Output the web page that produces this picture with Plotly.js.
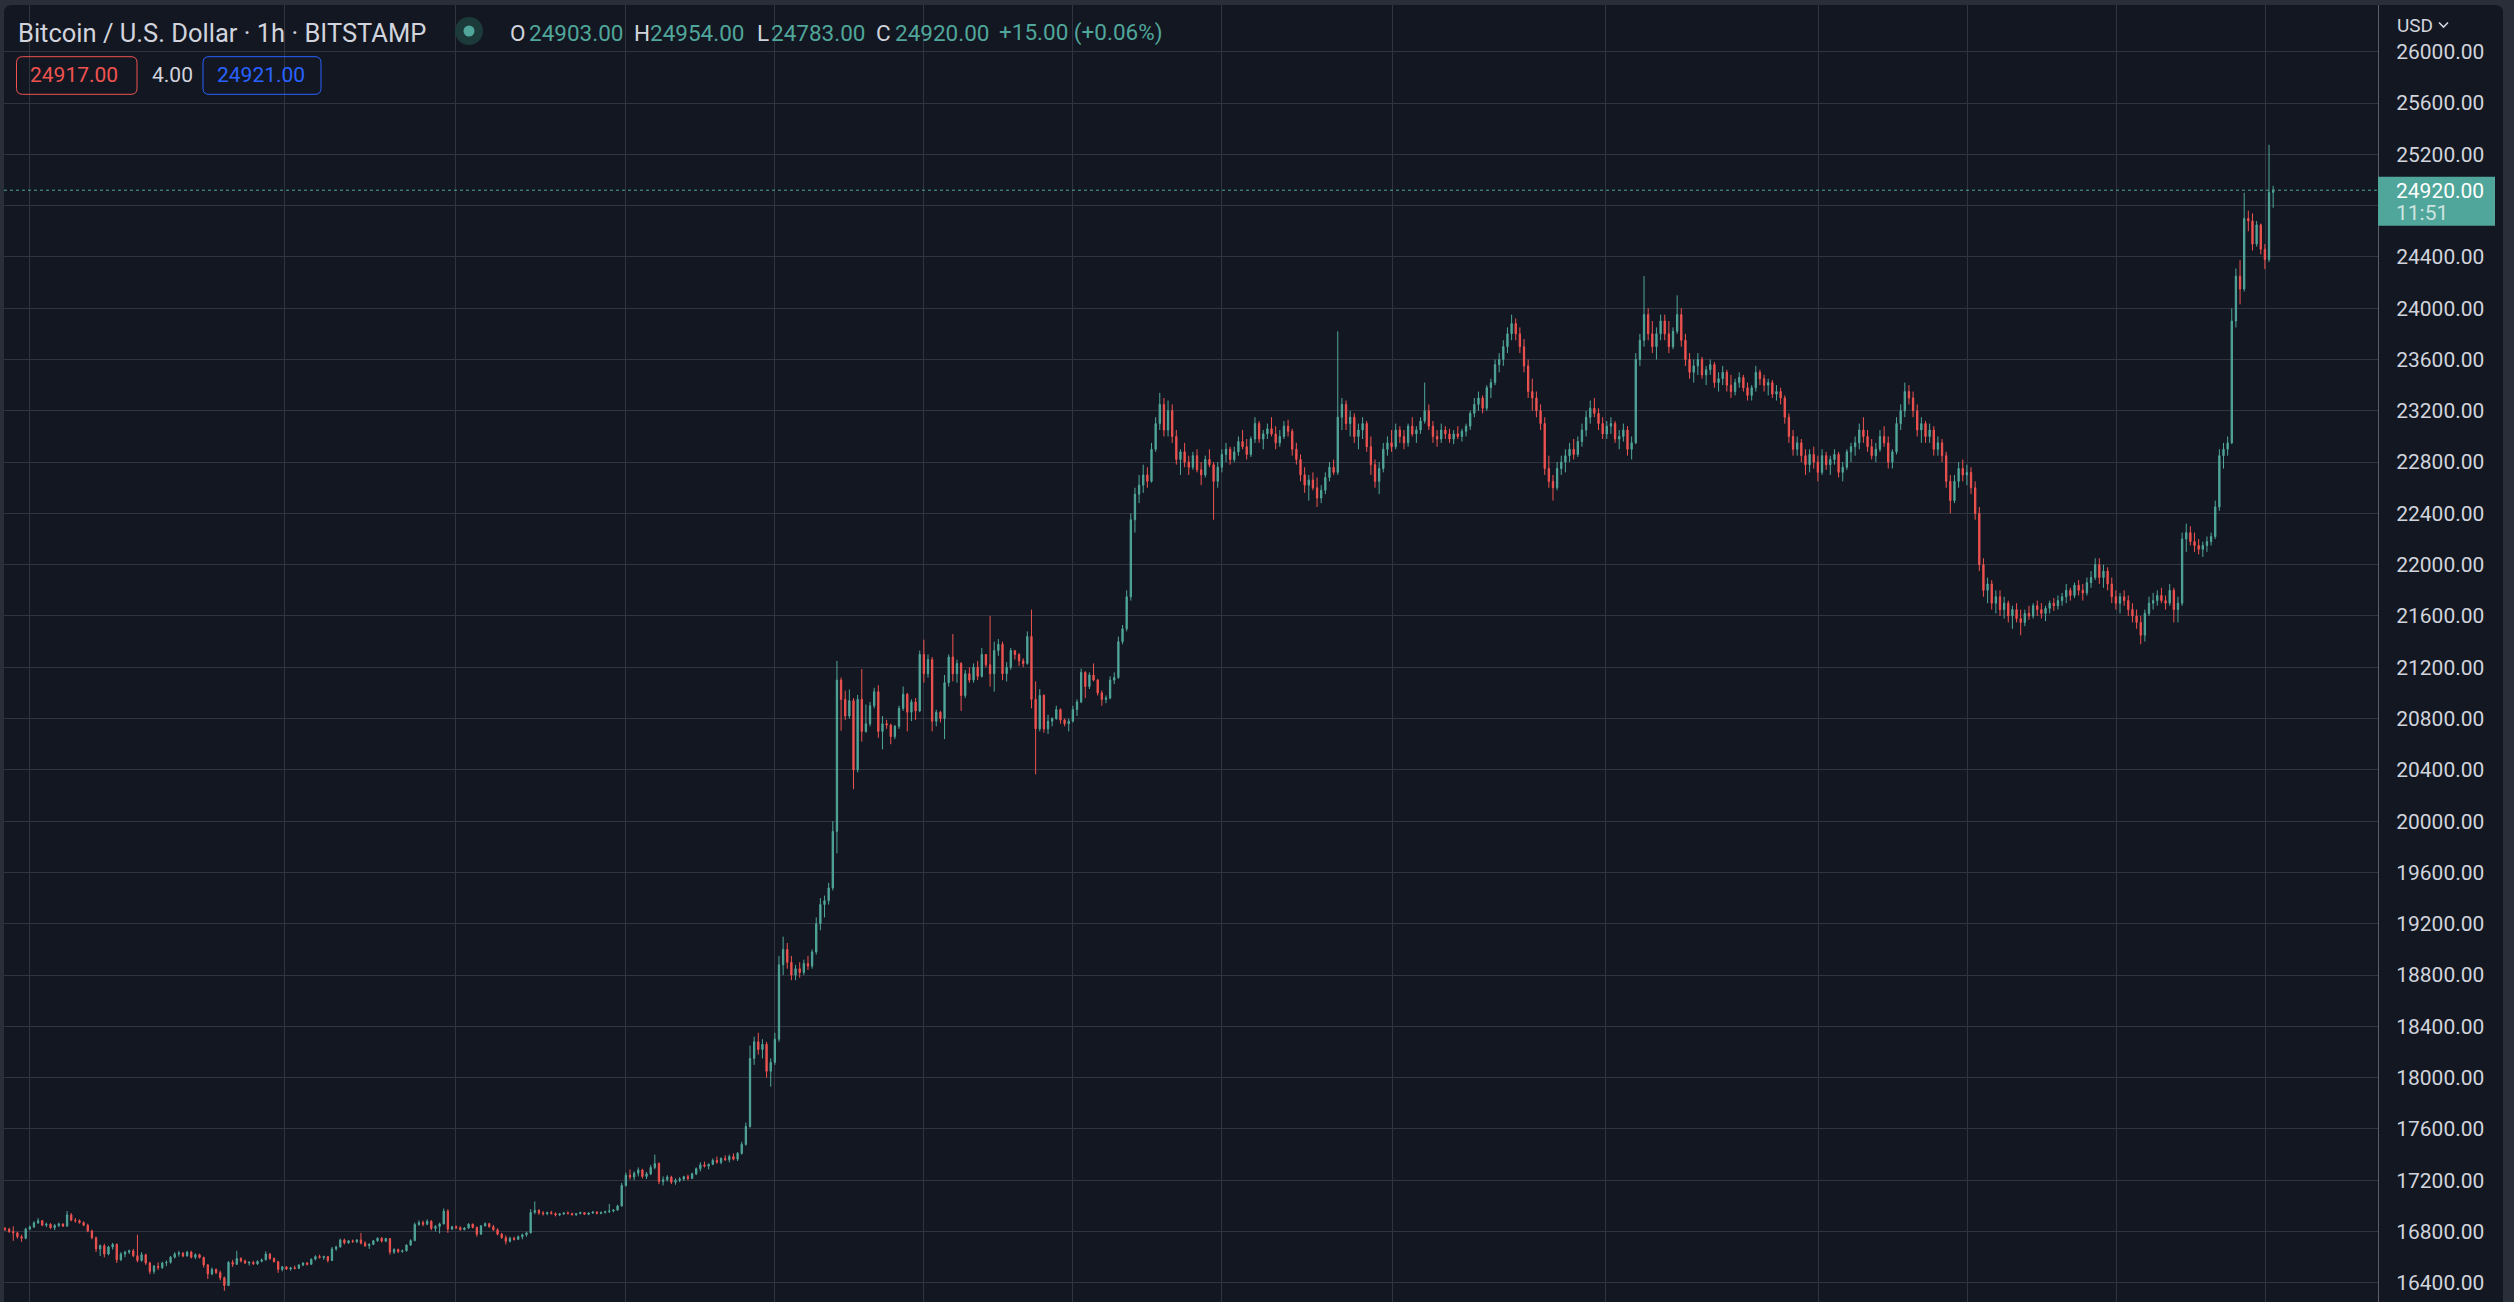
<!DOCTYPE html>
<html><head><meta charset="utf-8">
<script src="https://cdn.plot.ly/plotly-3.0.1.min.js"></script>
<style>html,body{margin:0;padding:0;background:#2a2e39;overflow:hidden}#chart{width:2514px;height:1302px}</style>
</head><body><div id="chart"></div>
<script>
// ---- data: BTC/USD candles (2h buckets) ----
const open=[
16825,16818,16800,16790,16760,16748,16820,16835,16868,16885,
16850,16858,16830,16848,16860,16842,16930,16890,16885,16870,
16850,16805,16752,16665,16690,16625,16680,16700,16580,16625,
16640,16650,16612,16575,16620,16555,16490,16530,16520,16555,
16560,16600,16625,16632,16610,16640,16600,16620,16598,16540,
16470,16505,16480,16440,16380,16560,16545,16590,16570,16555,
16560,16548,16568,16580,16625,16590,16565,16505,16525,16508,
16518,16512,16540,16555,16545,16585,16605,16598,16605,16575,
16665,16680,16735,16712,16728,16722,16735,16710,16690,16700,
16728,16748,16725,16745,16640,16660,16645,16650,16695,16730,
16855,16870,16858,16880,16825,16840,16860,16960,16820,16838,
16830,16815,16828,16858,16832,16780,16845,16862,16838,16815,
16780,16752,16725,16748,16740,16760,16775,16790,16950,16965,
16945,16940,16948,16940,16930,16938,16945,16940,16932,16940,
16948,16935,16945,16952,16942,16950,16955,16960,16968,17000,
17160,17240,17225,17255,17280,17230,17250,17300,17330,17190,
17205,17225,17185,17200,17210,17228,17215,17250,17290,17320,
17310,17325,17355,17340,17370,17360,17385,17365,17410,17480,
17620,18150,18280,18220,18260,18050,18120,18300,18880,19000,
18900,18800,18850,18820,18890,18870,18980,19200,19350,19380,
19480,19920,21100,20950,20820,20940,20400,20950,20700,20760,
20900,21010,20700,20760,20750,20660,20740,20880,20990,20850,
20930,20860,21300,21150,21260,20780,20850,20800,21080,21280,
21150,21230,20980,21150,21100,21200,21130,21300,21220,21150,
21330,21380,21150,21200,21330,21300,21250,21230,21440,20950,
20720,20980,20720,20780,20800,20870,20790,20760,20780,20870,
20930,21160,21050,21140,21100,21000,20950,20960,21100,21120,
21400,21500,21750,22350,22550,22620,22700,22650,22900,23100,
23250,23050,23200,23000,22820,22880,22800,22760,22850,22740,
22700,22820,22780,22650,22760,22860,22900,22820,22880,22960,
22920,22860,22980,23100,22980,23020,23060,23020,22950,23000,
23080,23040,22900,22820,22700,22620,22660,22600,22520,22580,
22680,22760,22720,23150,23250,23100,23150,23000,23050,23100,
22920,22780,22650,22750,22900,22950,22920,23050,23000,22950,
23080,23020,23050,23120,23200,23080,23000,22980,23050,23020,
22980,23020,23000,23040,23080,23180,23250,23300,23220,23380,
23420,23560,23600,23700,23800,23880,23800,23700,23550,23350,
23300,23200,23100,22750,22650,22600,22750,22800,22850,22900,
22860,22960,23050,23150,23220,23180,23100,23020,23080,23100,
22980,23000,23050,22900,22950,23600,23750,23950,23800,23700,
23800,23900,23800,23700,23820,23950,23750,23600,23500,23550,
23600,23480,23520,23560,23420,23450,23500,23400,23350,23420,
23460,23380,23320,23380,23500,23450,23400,23420,23330,23350,
23300,23150,23000,22900,22950,22850,22780,22860,22800,22720,
22850,22780,22820,22860,22720,22760,22880,22920,22950,23050,
23000,22920,22850,22900,23000,22950,22800,22880,23100,23200,
23350,23300,23200,23050,23100,23000,23050,22900,22950,22850,
22650,22500,22650,22750,22700,22720,22600,22400,22000,21800,
21850,21700,21750,21650,21700,21600,21650,21580,21550,21620,
21600,21680,21650,21620,21660,21700,21680,21720,21750,21800,
21760,21840,21800,21780,21860,21900,22000,21900,21950,21850,
21750,21700,21750,21720,21650,21600,21550,21450,21620,21700,
21720,21760,21720,21700,21800,21650,21700,22200,22250,22180,
22150,22120,22150,22180,22220,22450,22850,22900,22950,23900,
24250,24150,24700,24680,24500,24650,24460,24380,24903];
const high=[
16835,16830,16840,16800,16775,16830,16848,16880,16905,16890,
16870,16865,16860,16870,16862,16960,16945,16905,16895,16880,
16862,16815,16760,16700,16705,16690,16712,16708,16640,16650,
16660,16665,16775,16640,16628,16565,16540,16560,16565,16575,
16610,16640,16650,16640,16650,16650,16630,16628,16605,16548,
16520,16512,16495,16450,16570,16580,16650,16600,16582,16570,
16572,16575,16590,16645,16632,16598,16572,16532,16530,16525,
16535,16545,16560,16562,16590,16615,16620,16612,16610,16680,
16690,16745,16745,16735,16738,16740,16790,16725,16710,16735,
16755,16758,16752,16750,16670,16668,16660,16700,16740,16870,
16888,16885,16895,16890,16850,16870,16980,16975,16845,16848,
16842,16835,16865,16862,16840,16850,16872,16868,16852,16825,
16790,16770,16760,16760,16770,16785,16800,16975,17035,16975,
16960,16955,16962,16950,16945,16950,16958,16948,16945,16955,
16952,16950,16960,16958,16955,16962,17015,16975,17010,17180,
17260,17285,17270,17300,17290,17265,17320,17400,17340,17230,
17240,17235,17215,17225,17235,17245,17260,17300,17340,17345,
17330,17370,17385,17380,17395,17400,17410,17420,17500,17650,
18250,18320,18350,18300,18280,18150,18350,18950,19100,19050,
18950,18880,18900,18920,18950,19000,19250,19400,19420,19520,
20000,21250,21120,21017,21027,20960,20985,21186,20910,20930,
21040,21060,20820,20790,20760,20750,20900,21050,21000,20950,
20960,21330,21415,21300,21280,20870,20860,21140,21300,21460,
21260,21240,21180,21200,21230,21250,21350,21300,21600,21400,
21420,21400,21240,21350,21330,21310,21270,21480,21650,21090,
21030,20990,20830,20810,20900,20880,20800,20800,20900,20950,
21190,21170,21160,21230,21110,21020,20980,21130,21160,21440,
21530,21800,22400,22600,22700,22780,22760,22950,23150,23340,
23300,23280,23250,23050,22900,22950,22850,22880,22900,22800,
22850,22900,22800,22800,22900,22950,22920,22920,23000,23050,
22980,23000,23150,23120,23050,23100,23150,23080,23050,23120,
23130,23060,22950,22860,22760,22700,22720,22680,22620,22720,
22800,22820,23820,23300,23280,23200,23180,23100,23150,23120,
23000,22820,22800,22950,23000,23050,23100,23080,23050,23100,
23150,23080,23150,23420,23250,23120,23050,23100,23080,23060,
23050,23080,23060,23100,23200,23300,23350,23320,23400,23450,
23600,23650,23750,23850,23950,23920,23850,23760,23600,23450,
23350,23250,23150,22850,22700,22800,22850,22900,22950,22980,
23000,23100,23200,23280,23300,23220,23150,23120,23150,23120,
23050,23100,23080,23000,23650,23800,24250,24000,23900,23850,
23950,23950,23900,23850,24100,24000,23800,23650,23600,23650,
23620,23550,23600,23580,23500,23550,23520,23480,23450,23500,
23480,23420,23400,23550,23520,23480,23450,23440,23400,23380,
23320,23180,23050,23000,22980,22900,22900,22920,22850,22900,
22880,22850,22900,22880,22800,22900,22950,23000,23100,23150,
23050,22980,22950,23050,23080,23000,22900,23150,23250,23420,
23400,23350,23250,23150,23120,23100,23080,23000,22980,22880,
22700,22700,22800,22820,22780,22760,22650,22450,22050,21900,
21880,21800,21800,21750,21720,21680,21700,21650,21650,21680,
21700,21720,21700,21680,21720,21740,21760,21780,21850,21820,
21860,21880,21850,21900,21950,22050,22050,22000,21980,21900,
21800,21780,21800,21760,21700,21650,21600,21650,21750,21780,
21800,21820,21760,21850,21820,21750,22250,22320,22300,22250,
22200,22180,22220,22250,22500,22900,22950,23000,24000,24310,
24375,24900,24760,24740,24680,24660,24500,25274,24954];
const low=[
16805,16790,16728,16745,16720,16740,16810,16830,16860,16842,
16835,16820,16812,16835,16838,16840,16880,16870,16862,16842,
16795,16740,16640,16610,16600,16615,16660,16555,16570,16600,
16625,16600,16560,16565,16540,16468,16470,16500,16508,16530,
16550,16590,16605,16600,16605,16590,16585,16590,16520,16430,
16460,16470,16420,16338,16375,16525,16540,16560,16548,16535,
16540,16540,16560,16575,16580,16560,16478,16490,16500,16495,
16505,16508,16530,16535,16540,16575,16590,16580,16560,16570,
16650,16675,16700,16705,16712,16710,16700,16680,16665,16695,
16720,16715,16718,16620,16625,16632,16635,16645,16688,16725,
16845,16842,16850,16810,16800,16785,16855,16790,16812,16820,
16808,16810,16822,16825,16760,16775,16840,16830,16805,16770,
16745,16700,16715,16730,16735,16740,16760,16785,16935,16930,
16925,16928,16935,16918,16922,16930,16935,16925,16922,16935,
16930,16928,16938,16935,16935,16940,16945,16950,16962,16995,
17150,17205,17200,17230,17215,17210,17240,17285,17170,17160,
17190,17170,17165,17185,17195,17200,17210,17240,17270,17300,
17285,17318,17330,17325,17350,17340,17355,17350,17400,17470,
17610,18100,18180,18150,18000,17930,18100,18280,18800,18850,
18760,18760,18780,18800,18840,18850,18960,19150,19250,19350,
19460,19750,20705,20788,20800,20250,20380,20620,20690,20740,
20880,20650,20560,20720,20600,20640,20720,20860,20700,20780,
20790,20850,21080,21120,20700,20740,20770,20640,21050,21090,
21080,20860,20960,21080,21080,21100,21120,21200,21050,21010,
21290,21100,21090,21180,21260,21210,21200,21220,20880,20365,
20700,20690,20680,20740,20790,20760,20740,20700,20770,20820,
20920,20960,21030,21090,20980,20900,20920,20950,21070,21110,
21380,21480,21720,22250,22480,22560,22600,22640,22880,23050,
23000,23000,22950,22780,22700,22760,22700,22740,22720,22620,
22680,22760,22350,22600,22720,22800,22780,22800,22850,22900,
22820,22840,22950,22950,22900,22980,23000,22900,22920,22980,
23000,22850,22780,22650,22560,22500,22580,22450,22480,22550,
22650,22700,22700,23050,23050,23000,22950,22900,22980,22880,
22700,22600,22550,22720,22850,22880,22900,22950,22900,22920,
23000,22950,23020,23100,23050,22950,22920,22950,22980,22950,
22940,22980,22960,23000,23050,23150,23200,23180,23200,23300,
23400,23500,23550,23650,23750,23750,23650,23500,23300,23200,
23150,23050,22700,22600,22500,22580,22700,22720,22800,22820,
22840,22920,23000,23100,23150,23050,22980,22980,23020,22950,
22900,22960,22850,22820,22940,23550,23700,23750,23650,23600,
23750,23750,23650,23680,23800,23700,23550,23450,23420,23480,
23450,23400,23480,23380,23350,23400,23350,23300,23320,23380,
23350,23280,23280,23350,23400,23350,23320,23300,23280,23250,
23100,22950,22850,22850,22800,22700,22720,22750,22650,22700,
22740,22700,22780,22680,22650,22740,22800,22850,22900,22950,
22880,22820,22800,22880,22920,22750,22750,22860,23050,23150,
23250,23150,23000,22950,22950,22950,22850,22850,22800,22600,
22400,22480,22600,22650,22620,22550,22350,21950,21750,21700,
21650,21620,21600,21580,21550,21500,21550,21450,21520,21570,
21580,21600,21580,21560,21620,21640,21650,21680,21700,21720,
21740,21760,21720,21760,21820,21880,21850,21820,21800,21700,
21650,21620,21680,21600,21550,21500,21380,21400,21600,21650,
21680,21700,21650,21680,21550,21550,21680,22100,22150,22100,
22080,22060,22100,22150,22200,22420,22750,22850,22940,23850,
24030,24130,24600,24450,24480,24420,24305,24360,24783];
const close=[
16818,16800,16790,16760,16748,16820,16835,16868,16885,16850,
16858,16830,16848,16860,16842,16930,16890,16885,16870,16850,
16805,16752,16665,16690,16625,16680,16700,16580,16625,16640,
16650,16612,16575,16620,16555,16490,16530,16520,16555,16560,
16600,16625,16632,16610,16640,16600,16620,16598,16540,16470,
16505,16480,16440,16380,16560,16545,16590,16570,16555,16560,
16548,16568,16580,16625,16590,16565,16505,16525,16508,16518,
16512,16540,16555,16545,16585,16605,16598,16605,16575,16665,
16680,16735,16712,16728,16722,16735,16710,16690,16700,16728,
16748,16725,16745,16640,16660,16645,16650,16695,16730,16855,
16870,16858,16880,16825,16840,16860,16960,16820,16838,16830,
16815,16828,16858,16832,16780,16845,16862,16838,16815,16780,
16752,16725,16748,16740,16760,16775,16790,16950,16965,16945,
16940,16948,16940,16930,16938,16945,16940,16932,16940,16948,
16935,16945,16952,16942,16950,16955,16960,16968,17000,17160,
17240,17225,17255,17280,17230,17250,17300,17330,17190,17205,
17225,17185,17200,17210,17228,17215,17250,17290,17320,17310,
17325,17355,17340,17370,17360,17385,17365,17410,17480,17620,
18150,18280,18220,18260,18050,18120,18300,18880,19000,18900,
18800,18850,18820,18890,18870,18980,19200,19350,19380,19480,
19920,21100,20950,20820,20940,20400,20950,20700,20760,20900,
21010,20700,20760,20750,20660,20740,20880,20990,20850,20930,
20860,21300,21150,21260,20780,20850,20800,21080,21280,21150,
21230,20980,21150,21100,21200,21130,21300,21220,21150,21330,
21380,21150,21200,21330,21300,21250,21230,21440,20950,20720,
20980,20720,20780,20800,20870,20790,20760,20780,20870,20930,
21160,21050,21140,21100,21000,20950,20960,21100,21120,21400,
21500,21750,22350,22550,22620,22700,22650,22900,23100,23250,
23050,23200,23000,22820,22880,22800,22760,22850,22740,22700,
22820,22780,22650,22760,22860,22900,22820,22880,22960,22920,
22860,22980,23100,22980,23020,23060,23020,22950,23000,23080,
23040,22900,22820,22700,22620,22660,22600,22520,22580,22680,
22760,22720,23150,23250,23100,23150,23000,23050,23100,22920,
22780,22650,22750,22900,22950,22920,23050,23000,22950,23080,
23020,23050,23120,23200,23080,23000,22980,23050,23020,22980,
23020,23000,23040,23080,23180,23250,23300,23220,23380,23420,
23560,23600,23700,23800,23880,23800,23700,23550,23350,23300,
23200,23100,22750,22650,22600,22750,22800,22850,22900,22860,
22960,23050,23150,23220,23180,23100,23020,23080,23100,22980,
23000,23050,22900,22950,23600,23750,23950,23800,23700,23800,
23900,23800,23700,23820,23950,23750,23600,23500,23550,23600,
23480,23520,23560,23420,23450,23500,23400,23350,23420,23460,
23380,23320,23380,23500,23450,23400,23420,23330,23350,23300,
23150,23000,22900,22950,22850,22780,22860,22800,22720,22850,
22780,22820,22860,22720,22760,22880,22920,22950,23050,23000,
22920,22850,22900,23000,22950,22800,22880,23100,23200,23350,
23300,23200,23050,23100,23000,23050,22900,22950,22850,22650,
22500,22650,22750,22700,22720,22600,22400,22000,21800,21850,
21700,21750,21650,21700,21600,21650,21580,21550,21620,21600,
21680,21650,21620,21660,21700,21680,21720,21750,21800,21760,
21840,21800,21780,21860,21900,22000,21900,21950,21850,21750,
21700,21750,21720,21650,21600,21550,21450,21620,21700,21720,
21760,21720,21700,21800,21650,21700,22200,22250,22180,22150,
22120,22150,22180,22220,22450,22850,22900,22950,23900,24250,
24150,24700,24680,24500,24650,24460,24380,24903,24920];

// ---- header texts ----
const symbolTitle = 'Bitcoin / U.S. Dollar · 1h · BITSTAMP';
const ohlcLabels = ['O','H','L','C'];
const ohlcValues = ['24903.00','24954.00','24783.00','24920.00'];
const changeText = '+15.00 (+0.06%)';
const bidText = '24917.00', spreadText = '4.00', askText = '24921.00';
const lastPrice = 24920.00, countdown = '11:51', currency = 'USD';

// ---- layout geometry (pixels) ----
const W=2514, H=1302, ML=4, MR=136, MT=5, MB=0;
const PW=W-ML-MR, PH=H-MT-MB;
const X = px => (px-ML)/PW;
const Y = py => 1-(py-MT)/PH;
const stepPx = 4.139, firstPx = 5;           // candle spacing on screen
const k = px => (px-firstPx)/stepPx;
const gridPx = [29.7,284.3,455.3,625.3,774.3,923.3,1072.3,1221.3,1392.3,1605.3,1818.3,1967.3,2116.7,2265.3];
const yTop = 26364.1, yBot = 16251.0;
const vPx = v => MT + (yTop-v)/(yTop-yBot)*PH;
const labelBox = [176.7, 225.7];

// y ticks every 400; the one hidden under the last-price label is left blank
const yTickVals = [], yTickText = [];
for (let v = 16400; v <= 26000; v += 400) {
  yTickVals.push(v);
  const p = vPx(v);
  yTickText.push(p > labelBox[0]-8 && p < labelBox[1]+8 ? '' : v.toFixed(2));
}

const UP='#50a69a', DOWN='#ef5350', TXT='#d1d4dc', GRID='#30343f', FONT='Roboto, "Noto Sans", sans-serif';

function rrect(x0,y0,x1,y1,r){
  return `M${X(x0+r)},${Y(y0)} L${X(x1-r)},${Y(y0)} Q${X(x1)},${Y(y0)} ${X(x1)},${Y(y0+r)} `+
         `L${X(x1)},${Y(y1-r)} Q${X(x1)},${Y(y1)} ${X(x1-r)},${Y(y1)} L${X(x0+r)},${Y(y1)} `+
         `Q${X(x0)},${Y(y1)} ${X(x0)},${Y(y1-r)} L${X(x0)},${Y(y0+r)} Q${X(x0)},${Y(y0)} ${X(x0+r)},${Y(y0)} Z`;
}
function circ(cx,cy,r,fill){
  return {type:'circle',xref:'paper',yref:'paper',x0:X(cx-r),x1:X(cx+r),y0:Y(cy+r),y1:Y(cy-r),fillcolor:fill,line:{width:0},layer:'above'};
}
function ann(text,px,py,size,color,extra){
  return Object.assign({text:text,xref:'paper',yref:'paper',x:X(px),y:Y(py),xanchor:'left',yanchor:'middle',
    showarrow:false,font:{family:FONT,size:size,color:color},borderpad:0},extra||{});
}

const xs = close.map((_,i)=>i);
const trace = {
  type:'candlestick', x:xs, open:open, high:high, low:low, close:close,
  increasing:{line:{color:UP,width:1},fillcolor:UP},
  decreasing:{line:{color:DOWN,width:1},fillcolor:DOWN},
  whiskerwidth:0, hoverinfo:'skip', showlegend:false
};

const shapes = [
  {type:'path',xref:'paper',yref:'paper',path:rrect(4,5,2503,1320,8),fillcolor:'#131722',line:{width:0},layer:'below'},
  {type:'line',xref:'paper',yref:'y',x0:0,x1:1,y0:lastPrice,y1:lastPrice,line:{color:UP,width:1,dash:'dot'},layer:'above'},
  {type:'rect',xref:'paper',yref:'paper',x0:X(2378),x1:X(2495),y0:Y(labelBox[1]),y1:Y(labelBox[0]),fillcolor:UP,line:{width:0},layer:'above'},
  {type:'path',xref:'paper',yref:'paper',path:rrect(16.5,56.7,137,94.3,6),line:{color:DOWN,width:1},fillcolor:'rgba(0,0,0,0)',layer:'above'},
  {type:'path',xref:'paper',yref:'paper',path:rrect(203,56.7,321,94.3,6),line:{color:'#2962ff',width:1},fillcolor:'rgba(0,0,0,0)',layer:'above'},
  circ(469,31,14,'#1c3a3a'),
  circ(469,31,5.5,UP),
  {type:'path',xref:'paper',yref:'paper',path:`M${X(2439)},${Y(22.5)} L${X(2443.5)},${Y(27)} L${X(2448)},${Y(22.5)}`,line:{color:TXT,width:1.6},layer:'above'}
];

const ohlcX = [[509,528],[633,649],[756,770],[875,894]];
const annotations = [
  ann(symbolTitle,17,33,25.5,TXT),
  ann(bidText,29,75.5,21,DOWN),
  ann(spreadText,151,75.5,21,TXT),
  ann(askText,216,75.5,21,'#2962ff'),
  ann(changeText,998,33,22.5,UP),
  ann(currency,2396,25,19,TXT),
  ann(lastPrice.toFixed(2),2395,191,21,'#ffffff'),
  ann(countdown,2395,212.5,21,'rgba(255,255,255,0.72)')
];
ohlcLabels.forEach((l,i)=>{
  annotations.push(ann(l,ohlcX[i][0],33,22.5,TXT));
  annotations.push(ann(ohlcValues[i],ohlcX[i][1],33,22.5,UP));
});

const layout = {
  width:W, height:H, margin:{l:ML,r:MR,t:MT,b:MB,pad:0},
  paper_bgcolor:'#2a2e39', plot_bgcolor:'rgba(0,0,0,0)',
  font:{family:FONT,color:TXT},
  showlegend:false, hovermode:false, boxgap:0.55,
  xaxis:{range:[k(ML),k(ML+PW)], tickvals:gridPx.map(k), showticklabels:false, ticks:'',
    showgrid:true, gridcolor:GRID, gridwidth:1, zeroline:false, showline:false,
    rangeslider:{visible:false}, fixedrange:true},
  yaxis:{side:'right', range:[yBot,yTop], tickmode:'array', tickvals:yTickVals, ticktext:yTickText,
    showgrid:true, gridcolor:GRID, gridwidth:1, zeroline:false,
    showline:true, linecolor:'#5d606b', linewidth:1, ticks:'', ticklabelstandoff:13,
    tickfont:{family:FONT,size:21,color:TXT}, fixedrange:true},
  shapes:shapes, annotations:annotations
};
Plotly.newPlot('chart',[trace],layout,{staticPlot:true,displayModeBar:false});
</script></body></html>
